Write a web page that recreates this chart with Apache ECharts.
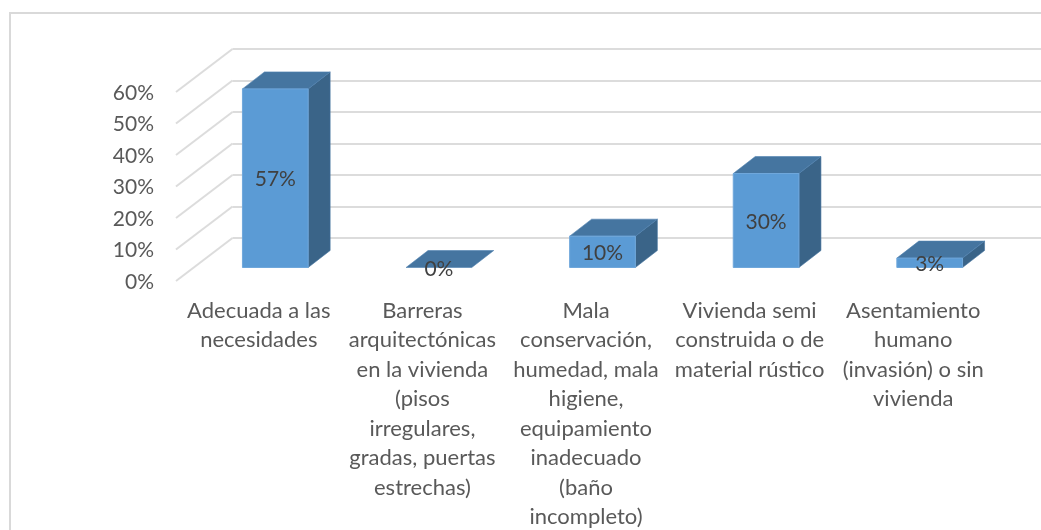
<!DOCTYPE html>
<html>
<head>
<meta charset="utf-8">
<style>html,body{margin:0;padding:0;background:#fff}#c{width:1041px;height:530px}</style>
<script src="https://cdn.jsdelivr.net/npm/echarts@6/dist/echarts.min.js"></script>
</head>
<body>
<div id="c"></div>
<script>
const categories = [
  "Adecuada a las\nnecesidades",
  "Barreras\narquitectónicas\nen la vivienda\n(pisos\nirregulares,\ngradas, puertas\nestrechas)",
  "Mala\nconservación,\nhumedad, mala\nhigiene,\nequipamiento\ninadecuado\n(baño\nincompleto)",
  "Vivienda semi\nconstruida o de\nmaterial rústico",
  "Asentamiento\nhumano\n(invasión) o sin\nvivienda"
];
const values = [57, 0, 10, 30, 3];
const yTicks = [0, 10, 20, 30, 40, 50, 60];

const FONT = 'Lato, Carlito, Calibri, sans-serif';
const WALL_DX = 56.5, WALL_DY = -43;
const BAR_W = 65.7, BAR_DX = 22, BAR_DY = -17;

const chart = echarts.init(document.getElementById('c'), null, {renderer: 'canvas'});

function gridBox(left, y0, width, height) {
  return {left: left, width: width, top: y0 - height, height: height, containLabel: false, outerBoundsMode: 'none'};
}

chart.setOption({
  animation: false,
  backgroundColor: '#fff',
  graphic: [{
    type: 'rect', silent: true, z: 0,
    shape: {x: 10, y: 13, width: 1060, height: 560},
    style: {fill: 'none', stroke: '#D9D9D9', lineWidth: 2}
  }],
  grid: [
    gridBox(177, 282, 818, 189),      // front edge of the walls: axis labels
    gridBox(232.5, 238, 830, 189),    // back wall: gridlines
    gridBox(193.5, 267.5, 818, 188)   // bars
  ],
  xAxis: [
    {gridIndex: 0, type: 'category', data: categories,
      axisLine: {show: false}, axisTick: {show: false}, splitLine: {show: false},
      axisLabel: {interval: 0, color: '#595959', fontFamily: FONT, fontSize: 22, lineHeight: 29.5, margin: 14, align: 'center', verticalAlign: 'top'}},
    {gridIndex: 1, type: 'value', show: false},
    {gridIndex: 2, type: 'category', data: categories, show: false}
  ],
  yAxis: [
    {gridIndex: 0, type: 'value', min: 0, max: 60, interval: 10,
      axisLine: {show: false}, axisTick: {show: false}, splitLine: {show: false},
      axisLabel: {formatter: '{value}%', color: '#595959', fontFamily: FONT, fontSize: 21, margin: 23}},
    {gridIndex: 1, type: 'value', min: 0, max: 60, interval: 10,
      axisLine: {show: false}, axisTick: {show: false}, axisLabel: {show: false},
      splitLine: {show: true, lineStyle: {color: '#DCDCDC', width: 2}}},
    {gridIndex: 2, type: 'value', min: 0, max: 60, interval: 10, show: false, splitLine: {show: false}}
  ],
  series: [
    {
      type: 'custom', xAxisIndex: 1, yAxisIndex: 1, silent: true, z: 2,
      data: yTicks.map(v => [0, v]),
      renderItem: function (params, api) {
        const p = api.coord([0, api.value(1)]);
        const x = params.coordSys.x;
        return {type: 'line', silent: true,
          shape: {x1: x - WALL_DX, y1: p[1] - WALL_DY, x2: x, y2: p[1]},
          style: {stroke: '#DCDCDC', lineWidth: 2}};
      }
    },
    {
      type: 'custom', xAxisIndex: 2, yAxisIndex: 2, silent: true, z: 3,
      data: values.map((v, i) => [i, v]),
      renderItem: function (params, api) {
        const c = api.coord([api.value(0), 0]);
        const t = api.coord([api.value(0), api.value(1)]);
        const x0 = c[0] - BAR_W / 2, x1 = c[0] + BAR_W / 2, yb = c[1], yt = t[1];
        const v = api.value(1);
        const kids = [];
        if (v > 0) {
          kids.push({type: 'polygon', shape: {points: [[x1, yb], [x1 + BAR_DX, yb + BAR_DY], [x1 + BAR_DX, yt + BAR_DY], [x1, yt]]},
            style: {fill: '#3A6488', stroke: '#44749F', lineWidth: 0.6}});
        }
        kids.push({type: 'polygon', shape: {points: [[x0, yt], [x0 + BAR_DX, yt + BAR_DY], [x1 + BAR_DX, yt + BAR_DY], [x1, yt]]},
          style: {fill: '#4575A0', stroke: '#4F82B0', lineWidth: 0.6}});
        if (v > 0) {
          kids.push({type: 'rect', shape: {x: x0, y: yt, width: BAR_W, height: yb - yt},
            style: {fill: '#5B9BD5', stroke: '#6FA7DB', lineWidth: 1}});
        }
        kids.push({type: 'text', z2: 10, style: {
          text: v + '%', x: c[0], y: (yb + yt) / 2 + 1.5, align: 'center', verticalAlign: 'middle',
          fill: '#404040', fontFamily: FONT, fontSize: 21}});
        return {type: 'group', silent: true, children: kids};
      }
    }
  ]
});
</script>
</body>
</html>
